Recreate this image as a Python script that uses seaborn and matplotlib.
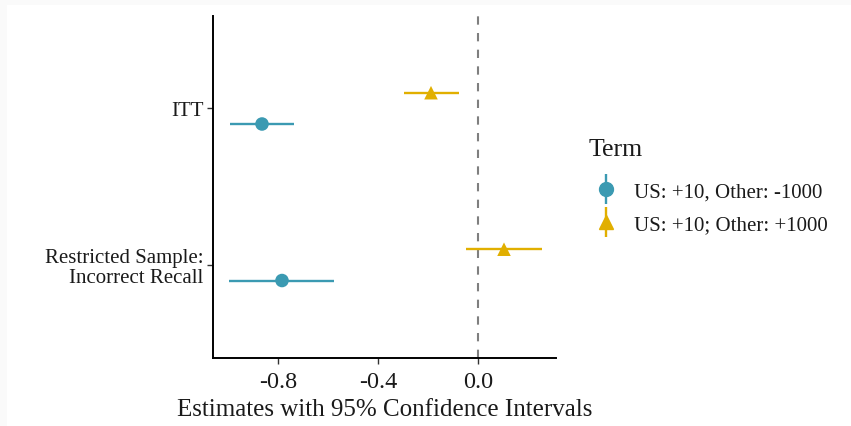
import numpy as np
import pandas as pd
import matplotlib
matplotlib.use("Agg")
import matplotlib.pyplot as plt
import seaborn as sns
from matplotlib.lines import Line2D
from matplotlib.patches import Rectangle

# DATA
groups = ["ITT", "Restricted Sample:\nIncorrect Recall"]
terms = ["US: +10, Other: -1000", "US: +10; Other: +1000"]
est_a = [-0.864, -0.784]
lo_a = [-0.992, -0.996]
hi_a = [-0.736, -0.576]
est_b = [-0.188, 0.104]
lo_b = [-0.296, -0.048]
hi_b = [-0.076, 0.256]

COLORS = ["#3B9AB2", "#E1AF00"]
MARKERS = ["o", "^"]
TEXT = "#1a1a1a"

df = pd.DataFrame({
    "group": groups * 2,
    "term": [terms[0]] * 2 + [terms[1]] * 2,
    "est": est_a + est_b,
    "lo": lo_a + lo_b,
    "hi": hi_a + hi_b,
})
df["gpos"] = df["group"].map({g: i for i, g in enumerate(groups)})
df["ypos"] = df["gpos"] + np.where(df["term"] == terms[0], 0.1, -0.1)

sns.set_style("white")
plt.rcParams["font.family"] = ["Liberation Serif", "DejaVu Serif"]

fig = plt.figure(figsize=(8.51, 4.27), dpi=100)
fig.patch.set_facecolor("#fafafa")
fig.patches.append(Rectangle((7 / 851, 0), 1, 1 - 6 / 427, transform=fig.transFigure,
                             facecolor="white", edgecolor="none", zorder=-1))
ax = fig.add_axes([213 / 851, 1 - 359 / 427, (556 - 213) / 851, (359 - 17) / 427])
ax.set_facecolor("white")

ax.axvline(0, color="#7f7f7f", linestyle=(0, (4, 4)), linewidth=1.5, zorder=1)

for t, c in zip(terms, COLORS):
    sub = df[df["term"] == t]
    ax.hlines(sub["ypos"], sub["lo"], sub["hi"], color=c, linewidth=1.7, zorder=2)

sns.scatterplot(data=df, x="est", y="ypos", hue="term", style="term",
                palette=COLORS, markers=MARKERS, hue_order=terms, style_order=terms,
                s=95, edgecolor="none", ax=ax, legend=False, zorder=3)

ax.set_xlim(-1.06, 0.312)
ax.set_ylim(1.595, -0.59)
ax.set_yticks(range(len(groups)))
ax.set_yticklabels(groups, fontsize=15, color=TEXT, linespacing=1.08)
ax.set_xticks([-0.8, -0.4, 0.0])
ax.set_xticklabels(["-0.8", "-0.4", "0.0"], fontsize=17.5, color=TEXT)
ax.tick_params(axis="both", length=4, width=1, color="#333333", direction="out",
               bottom=True, left=True)
ax.tick_params(axis="x", pad=5)
ax.tick_params(axis="y", pad=3)
ax.set_xlabel("Estimates with 95% Confidence Intervals", fontsize=18, color=TEXT, labelpad=5)
ax.set_ylabel("")

for s in ["top", "right"]:
    ax.spines[s].set_visible(False)
for s in ["left", "bottom"]:
    ax.spines[s].set_color("black")
    ax.spines[s].set_linewidth(1.4)

handles = []
for c, m in zip(COLORS, MARKERS):
    vline = Line2D([], [], marker="|", markersize=21, markeredgewidth=1.7,
                   color=c, linestyle="None")
    pt = Line2D([], [], marker=m, markersize=10, color=c, linestyle="None")
    handles.append((vline, pt))

fig.text(589 / 851, 1 - 150 / 427, "Term", fontsize=18.5, color=TEXT,
         ha="left", va="center")
leg = fig.legend(handles, terms, loc="upper left",
                 bbox_to_anchor=(571 / 851, 1 - 164 / 427), frameon=False,
                 fontsize=15, handletextpad=0.5,
                 handlelength=1.6, labelspacing=0.65)
for txt in leg.get_texts():
    txt.set_color(TEXT)

fig.savefig("out.png", dpi=100)
